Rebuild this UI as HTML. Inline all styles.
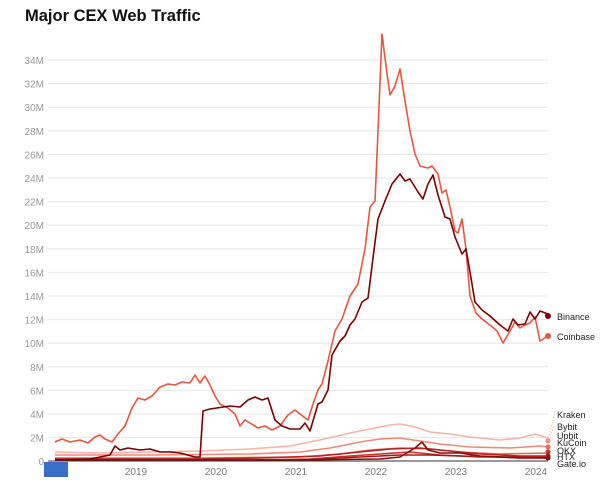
<!DOCTYPE html>
<html><head><meta charset="utf-8"><style>
html,body{margin:0;padding:0;background:#fff;width:600px;height:488px;overflow:hidden}
svg{display:block;font-family:"Liberation Sans",sans-serif}
</style></head><body>
<svg width="600" height="488" viewBox="0 0 600 488">
<text x="25" y="21" font-size="16.5" font-weight="bold" fill="#111">Major CEX Web Traffic</text>
<g stroke="#e6e6e6" stroke-width="1">
<line x1="48" x2="548" y1="60" y2="60"/><line x1="48" x2="548" y1="83.6" y2="83.6"/><line x1="48" x2="548" y1="107.2" y2="107.2"/><line x1="48" x2="548" y1="130.8" y2="130.8"/><line x1="48" x2="548" y1="154.4" y2="154.4"/><line x1="48" x2="548" y1="178" y2="178"/><line x1="48" x2="548" y1="201.6" y2="201.6"/><line x1="48" x2="548" y1="225.2" y2="225.2"/><line x1="48" x2="548" y1="248.8" y2="248.8"/><line x1="48" x2="548" y1="272.4" y2="272.4"/><line x1="48" x2="548" y1="296" y2="296"/><line x1="48" x2="548" y1="319.6" y2="319.6"/><line x1="48" x2="548" y1="343.2" y2="343.2"/><line x1="48" x2="548" y1="366.8" y2="366.8"/><line x1="48" x2="548" y1="390.4" y2="390.4"/><line x1="48" x2="548" y1="414" y2="414"/><line x1="48" x2="548" y1="437.6" y2="437.6"/>
</g>
<g font-size="10" fill="#999" text-anchor="end">
<text x="44" y="64">34M</text><text x="44" y="87.6">32M</text><text x="44" y="111.2">30M</text><text x="44" y="134.8">28M</text><text x="44" y="158.4">26M</text><text x="44" y="182">24M</text><text x="44" y="205.6">22M</text><text x="44" y="229.2">20M</text><text x="44" y="252.8">18M</text><text x="44" y="276.4">16M</text><text x="44" y="300">14M</text><text x="44" y="323.6">12M</text><text x="44" y="347.2">10M</text><text x="44" y="370.8">8M</text><text x="44" y="394.4">6M</text><text x="44" y="418">4M</text><text x="44" y="441.6">2M</text><text x="44" y="465">0</text>
</g>
<g font-size="10" fill="#777" text-anchor="middle">
<text x="136" y="475">2019</text><text x="216" y="475">2020</text><text x="296" y="475">2021</text><text x="376" y="475">2022</text><text x="456" y="475">2023</text><text x="536" y="475">2024</text>
</g>
<g fill="none" stroke-linejoin="round" stroke-width="1.6">
<polyline stroke="#f7b3a5" points="55,452 100,453 150,452 200,451 250,449 290,446 320,440 350,433 375,428 390,425 400,424 415,427 430,432 450,434 470,437 500,440 520,438 535,434 548,438"/>
<polyline stroke="#f08a75" points="55,455 150,455 250,454 300,452 330,448 360,442 380,439 400,438 420,441 440,444 470,447 510,448 540,446 548,447"/>
<polyline stroke="#e36b55" points="55,458 200,458 300,457 340,454 370,450 400,448 430,449 460,452 500,454 548,453"/>
<polyline stroke="#c9302a" points="55,460 250,460 310,459 350,456 380,454 410,452 440,455 480,457 548,457"/>
<polyline stroke="#a81818" points="55,460 300,460 340,458 380,456 400,455 430,455 460,456 500,457 548,458"/>
<polyline stroke="#b52020" points="55,459 200,459 260,458 320,456 360,452 390,449 420,448 450,451 480,454 520,456 548,456"/>
<polyline stroke="#8a0a0a" points="55,460 300,460 380,459 400,457 415,448 422,442 428,450 440,453 460,453 480,456 520,458 548,458"/>
<polyline stroke="#e8553f" points="55,442 62,439 70,442 80,440 88,443 95,437 100,435 105,439 112,442 118,434 125,426 132,408 138,398 145,400 152,396 160,387 168,384 175,385 182,382 190,383 195,375 200,383 205,376 210,385 215,396 220,404 228,408 235,414 240,426 245,420 250,423 258,428 265,426 272,430 280,426 288,415 295,410 300,414 308,420 313,404 318,390 322,384 328,361 335,331 342,319 350,296 358,284 365,249 370,207 375,201 378,131 382,34 386,66 390,95 395,86 400,69 405,101 410,131 415,154 420,166 428,168 432,166 438,174 442,193 446,190 450,207 455,231 458,233 462,219 466,249 470,296 476,313 482,319 490,325 497,331 503,343 510,331 515,322 520,328 525,325 530,323 535,317 540,341 548,336"/>
<polyline stroke="#7a0000" points="55,460 90,459 100,457 110,455 115,446 120,450 128,448 140,450 150,449 160,452 170,452 180,453 195,457 200,457 203,411 210,409 230,406 240,407 248,400 255,397 262,400 268,398 275,420 282,426 290,429 300,429 305,423 310,431 318,404 322,402 328,390 332,355 340,341 345,336 350,325 355,319 362,302 368,298 372,266 378,219 385,201 392,184 400,174 405,181 410,179 418,192 423,199 428,184 433,175 438,195 445,217 450,219 455,237 462,254 466,249 470,272 475,302 482,310 490,316 500,325 508,331 513,319 518,325 525,324 530,312 535,319 540,311 548,314"/>
</g>
<line x1="48" x2="548" y1="461" y2="461" stroke="#333" stroke-width="1"/>
<circle cx="548" cy="316" r="3" fill="#7a0000"/>
<circle cx="548" cy="336" r="3" fill="#e8553f"/>
<g fill="#f08a75"><circle cx="548" cy="441" r="2.5"/><circle cx="548" cy="447" r="2.5" fill="#e36b55"/><circle cx="548" cy="452" r="2.5" fill="#c9302a"/><circle cx="548" cy="456" r="2.5" fill="#a81818"/><circle cx="548" cy="458" r="2.5" fill="#8a0a0a"/></g>
<g stroke="#f4a090" stroke-dasharray="1,2" fill="none"><path d="M548,441 L555,411"/><path d="M548,445 L554,425"/></g>
<g font-size="9" fill="#222">
<text x="557" y="320">Binance</text><text x="557" y="340">Coinbase</text>
<text x="557" y="418">Kraken</text><text x="557" y="430">Bybit</text><text x="557" y="439">Upbit</text><text x="557" y="446">KuCoin</text><text x="557" y="454">OKX</text><text x="557" y="460">HTX</text><text x="557" y="467">Gate.io</text>
</g>
<rect x="44" y="462" width="24" height="15" fill="#3a6fc7"/>
</svg>
</body></html>
